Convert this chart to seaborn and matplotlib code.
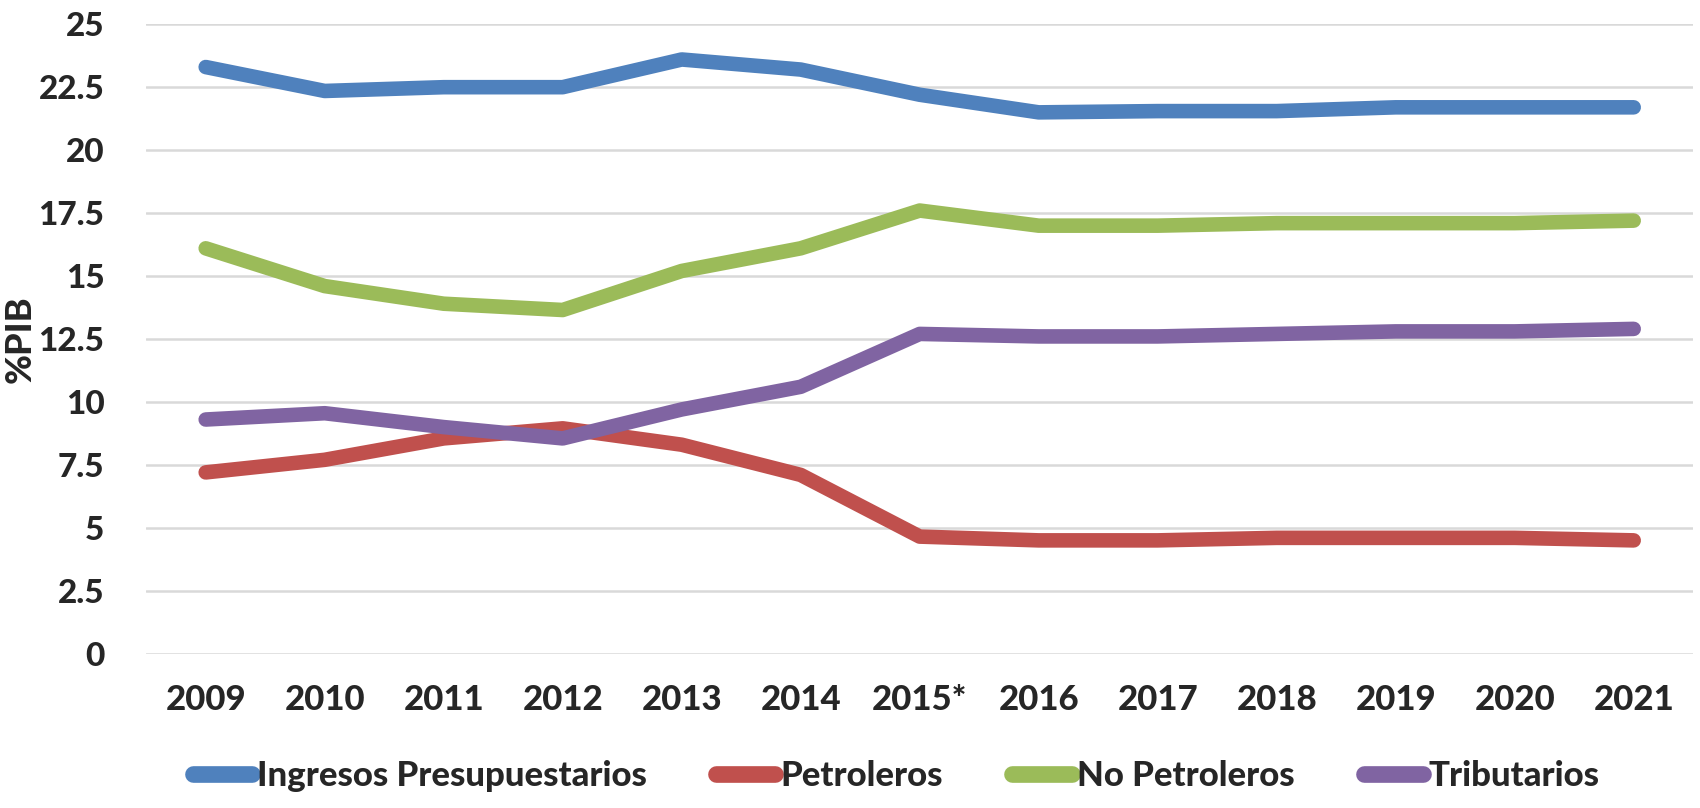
import matplotlib
matplotlib.use("Agg")
import matplotlib.pyplot as plt
import seaborn as sns
import pandas as pd

years = ["2009", "2010", "2011", "2012", "2013", "2014", "2015*", "2016",
         "2017", "2018", "2019", "2020", "2021"]
ingresos = [23.3, 22.35, 22.5, 22.5, 23.6, 23.2, 22.2, 21.5, 21.55, 21.55, 21.7, 21.7, 21.7]
petroleros = [7.2, 7.7, 8.55, 8.95, 8.3, 7.1, 4.65, 4.5, 4.5, 4.6, 4.6, 4.6, 4.5]
no_petroleros = [16.1, 14.6, 13.9, 13.65, 15.2, 16.1, 17.6, 17.0, 17.0, 17.1, 17.1, 17.1, 17.2]
tributarios = [9.3, 9.55, 9.0, 8.55, 9.7, 10.6, 12.7, 12.6, 12.6, 12.7, 12.8, 12.8, 12.9]

series_names = ["Ingresos Presupuestarios", "Petroleros", "No Petroleros", "Tributarios"]
colors = ["#4F81BD", "#C0504D", "#9BBB59", "#8064A2"]
yticks = [0, 2.5, 5, 7.5, 10, 12.5, 15, 17.5, 20, 22.5, 25]
ytick_labels = ["0", "2.5", "5", "7.5", "10", "12.5", "15", "17.5", "20", "22.5", "25"]

rows = []
for name, vals in zip(series_names, [ingresos, petroleros, no_petroleros, tributarios]):
    for i, (yr, v) in enumerate(zip(years, vals)):
        rows.append({"idx": i, "year": yr, "value": v, "serie": name})
df = pd.DataFrame(rows)

sns.set_style("white")
plt.rcParams["font.family"] = ["Lato", "DejaVu Sans"]
W = "black"

fig = plt.figure(figsize=(17, 8.08), dpi=100)
ax = fig.add_axes([0.086, 0.191, 0.910, 0.779])

sns.lineplot(data=df, x="idx", y="value", hue="serie", hue_order=series_names,
             palette=colors, linewidth=10.5, ax=ax, legend=True,
             solid_capstyle="round")

ax.set_xlim(-0.5, len(years) - 0.5)
ax.set_ylim(0, 25)
ax.set_xticks(range(len(years)))
ax.set_xticklabels(years, fontsize=25, fontweight=W)
ax.set_yticks(yticks)
ax.set_yticklabels(ytick_labels, fontsize=24, fontweight=W)
ax.tick_params(axis="both", length=0)
ax.tick_params(axis="x", pad=22)
ax.tick_params(axis="y", pad=30)
ax.set_xlabel("")
ax.set_ylabel("%PIB", fontsize=26, fontweight=W)
ax.yaxis.set_label_coords(-0.071, 0.5)
ax.grid(axis="y", color="#d9d9d9", linewidth=1.8)
ax.set_axisbelow(True)
for s in ax.spines.values():
    s.set_visible(False)

handles, labels = ax.get_legend_handles_labels()
for h in handles:
    h.set_linewidth(12)
    h.set_solid_capstyle("round")
ax.legend_.remove()
fig.legend(handles, labels, loc="center", bbox_to_anchor=(0.527, 0.04), ncol=4,
           frameon=False, prop={"size": 25, "weight": W},
           handlelength=1.7, handletextpad=0.15, columnspacing=2.0)

fig.savefig("out.png", dpi=100)
